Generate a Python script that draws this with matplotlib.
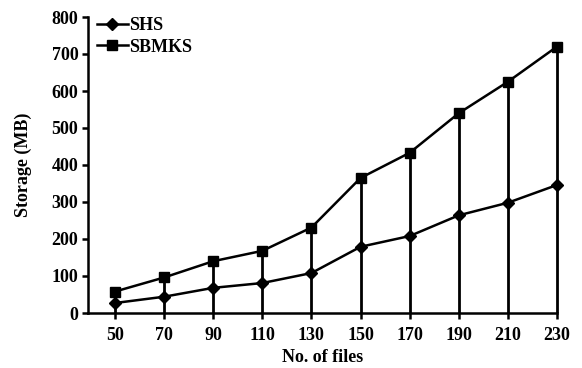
import numpy as np
import matplotlib.pyplot as plt

files = ['50', '70', '90', '110', '130', '150', '170', '190', '210', '230']
shs = [27, 44, 68, 81, 108, 179, 208, 264, 298, 346]
sbmks = [58, 96, 140, 168, 231, 365, 433, 540, 625, 720]

plt.rcParams['font.family'] = 'Liberation Serif'
plt.rcParams['font.weight'] = 'bold'
plt.rcParams['font.size'] = 13

fig = plt.figure(figsize=(5.82, 3.68), dpi=100)
ax = fig.add_axes([88/582, 1-313/368, (557-88)/582, (313-17)/368])

x = np.arange(len(files))
ax.vlines(x, 0, sbmks, colors='black', linewidth=2, clip_on=False)
ax.plot(x, shs, color='black', linewidth=1.8, marker='D', markersize=6.5,
        label='SHS', clip_on=False)
ax.plot(x, sbmks, color='black', linewidth=1.8, marker='s', markersize=7.5,
        label='SBMKS', clip_on=False)

ax.set_xlim(-0.55, 9)
ax.set_ylim(0, 800)
ax.set_xticks(x)
ax.set_xticklabels(files)
ax.set_yticks(range(0, 801, 100))
for s in ['top', 'right']:
    ax.spines[s].set_visible(False)
for s in ['left', 'bottom']:
    ax.spines[s].set_linewidth(1.8)
ax.tick_params(width=1.8, length=4, direction='out', pad=3)
ax.tick_params(axis='x', pad=6)
ax.set_xlabel('No. of files', fontweight='bold', labelpad=4)
ax.set_ylabel('Storage (MB)', fontweight='bold', labelpad=14)

ax.legend(loc='upper left', frameon=False, handlelength=1.7, handletextpad=0.05,
          borderaxespad=0.1, labelspacing=0.25, bbox_to_anchor=(0.0, 1.03))

fig.savefig('out.png', dpi=100)
